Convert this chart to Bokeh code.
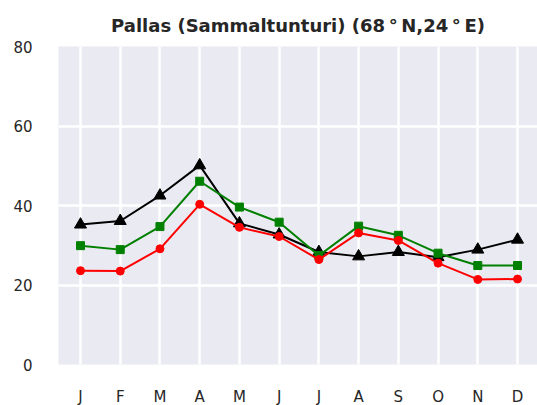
from bokeh.plotting import figure
from bokeh.models import Range1d, FixedTicker
from bokeh.embed import file_html
from bokeh.resources import INLINE

months = ["J", "F", "M", "A", "M", "J", "J", "A", "S", "O", "N", "D"]
month_num = list(range(1, 13))
black_vals = [35.2, 36.1, 42.5, 50.1, 35.5, 32.7, 28.3, 27.2, 28.3, 27.0, 28.9, 31.4]
green_vals = [29.9, 28.9, 34.7, 46.1, 39.6, 35.8, 27.4, 34.8, 32.5, 28.0, 24.9, 24.9]
red_vals = [23.6, 23.5, 29.1, 40.3, 34.5, 32.2, 26.4, 33.1, 31.2, 25.5, 21.4, 21.5]
y_ticks = [0, 20, 40, 60, 80]
title_text = "Pallas (Sammaltunturi) (68\u2009°\u2009N,24\u2009°\u2009E)"

p = figure(width=537, height=405, output_backend="svg", toolbar_location=None,
           x_range=Range1d(0.446, 12.503), y_range=Range1d(0, 80),
           frame_width=479, frame_height=318,
           min_border_left=58, min_border_right=0, min_border_top=46, min_border_bottom=41)
p.background_fill_color = "#EAEAF2"
p.border_fill_color = "white"
p.outline_line_color = None

p.title.text = title_text
p.title.align = "center"
p.title.text_font = "DejaVu Sans"
p.title.text_font_size = "18px"
p.title.text_font_style = "bold"
p.title.text_color = "#262626"
p.title.standoff = 22

for ax in (p.xaxis, p.yaxis):
    ax.axis_line_color = None
    ax.major_tick_line_color = None
    ax.minor_tick_line_color = None
    ax.major_label_text_font = "DejaVu Sans"
    ax.major_label_text_font_size = "15px"
    ax.major_label_text_color = "#262626"

p.xaxis.ticker = FixedTicker(ticks=month_num)
p.xaxis.major_label_overrides = {m: lab for m, lab in zip(month_num, months)}
p.xaxis.major_label_standoff = 17
p.yaxis.ticker = FixedTicker(ticks=y_ticks)
p.yaxis.major_label_standoff = 20

p.xgrid.ticker = FixedTicker(ticks=month_num)
p.ygrid.ticker = FixedTicker(ticks=y_ticks)
for g in (p.xgrid, p.ygrid):
    g.grid_line_color = "white"
    g.grid_line_width = 2.5

p.line(month_num, black_vals, color="black", line_width=2)
p.scatter(month_num, black_vals, marker="triangle", size=12, color="black")
p.line(month_num, green_vals, color="green", line_width=2)
p.scatter(month_num, green_vals, marker="square", size=8, color="green")
p.line(month_num, red_vals, color="red", line_width=2)
p.scatter(month_num, red_vals, marker="circle", size=8, color="red")

open("out.html", "w").write(file_html(p, INLINE))
